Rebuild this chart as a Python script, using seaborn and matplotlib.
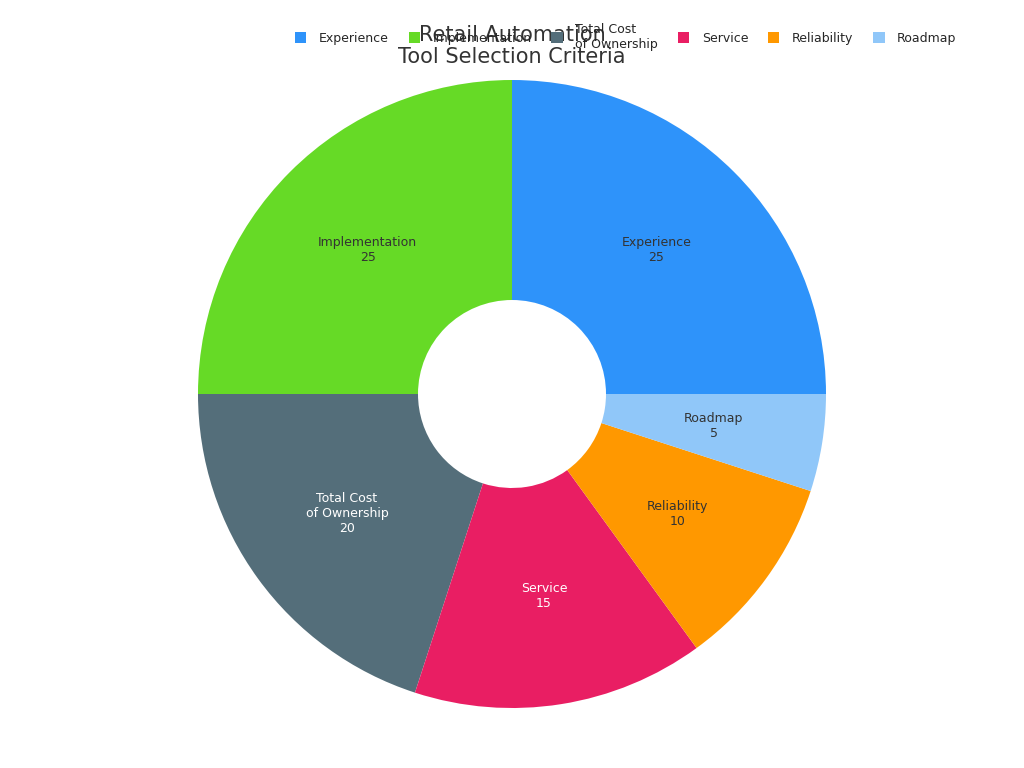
import matplotlib
matplotlib.use("Agg")
import matplotlib.pyplot as plt
import seaborn as sns
from matplotlib.patches import Patch

sns.set_style("white")

categories = ["Experience", "Implementation", "Total Cost\nof Ownership", "Service", "Reliability", "Roadmap"]
values = [25, 25, 20, 15, 10, 5]
colors = ["#2E93FA", "#66DA26", "#546E7A", "#E91E63", "#FF9800", "#90C7F9"]
label_colors = ["#333333", "#333333", "white", "white", "#333333", "#333333"]

fig = plt.figure(figsize=(10.24, 7.68), dpi=100)
ax = fig.add_axes([0, 0, 1, 1])

labels = [f"{c}\n{v}" for c, v in zip(categories, values)]
wedges, texts = ax.pie(values, colors=colors, labels=labels, startangle=0, counterclock=True,
                       center=(512, 374), radius=314, labeldistance=0.65, frame=True,
                       wedgeprops=dict(width=314 - 94, linewidth=0),
                       textprops=dict(fontsize=9))
ax.set_xlim(0, 1024)
ax.set_ylim(0, 768)
ax.set_aspect("equal")
ax.axis("off")
for t, c in zip(texts, label_colors):
    t.set_ha("center")
    t.set_va("center")
    t.set_color(c)
    t.set_multialignment("center")

fig.text(0.5, 0.94, "Retail Automation\nTool Selection Criteria", ha="center", va="center",
         fontsize=15, color="#333333", linespacing=1.1)

handles = [Patch(facecolor=c, edgecolor="none") for c in colors]
fig.legend(handles, categories, loc="upper right", bbox_to_anchor=(0.945, 0.985), ncol=6,
           frameon=False, fontsize=9, handlelength=0.9, handleheight=0.9,
           columnspacing=1.6, handletextpad=1.0)

fig.savefig("out.png", dpi=100)
